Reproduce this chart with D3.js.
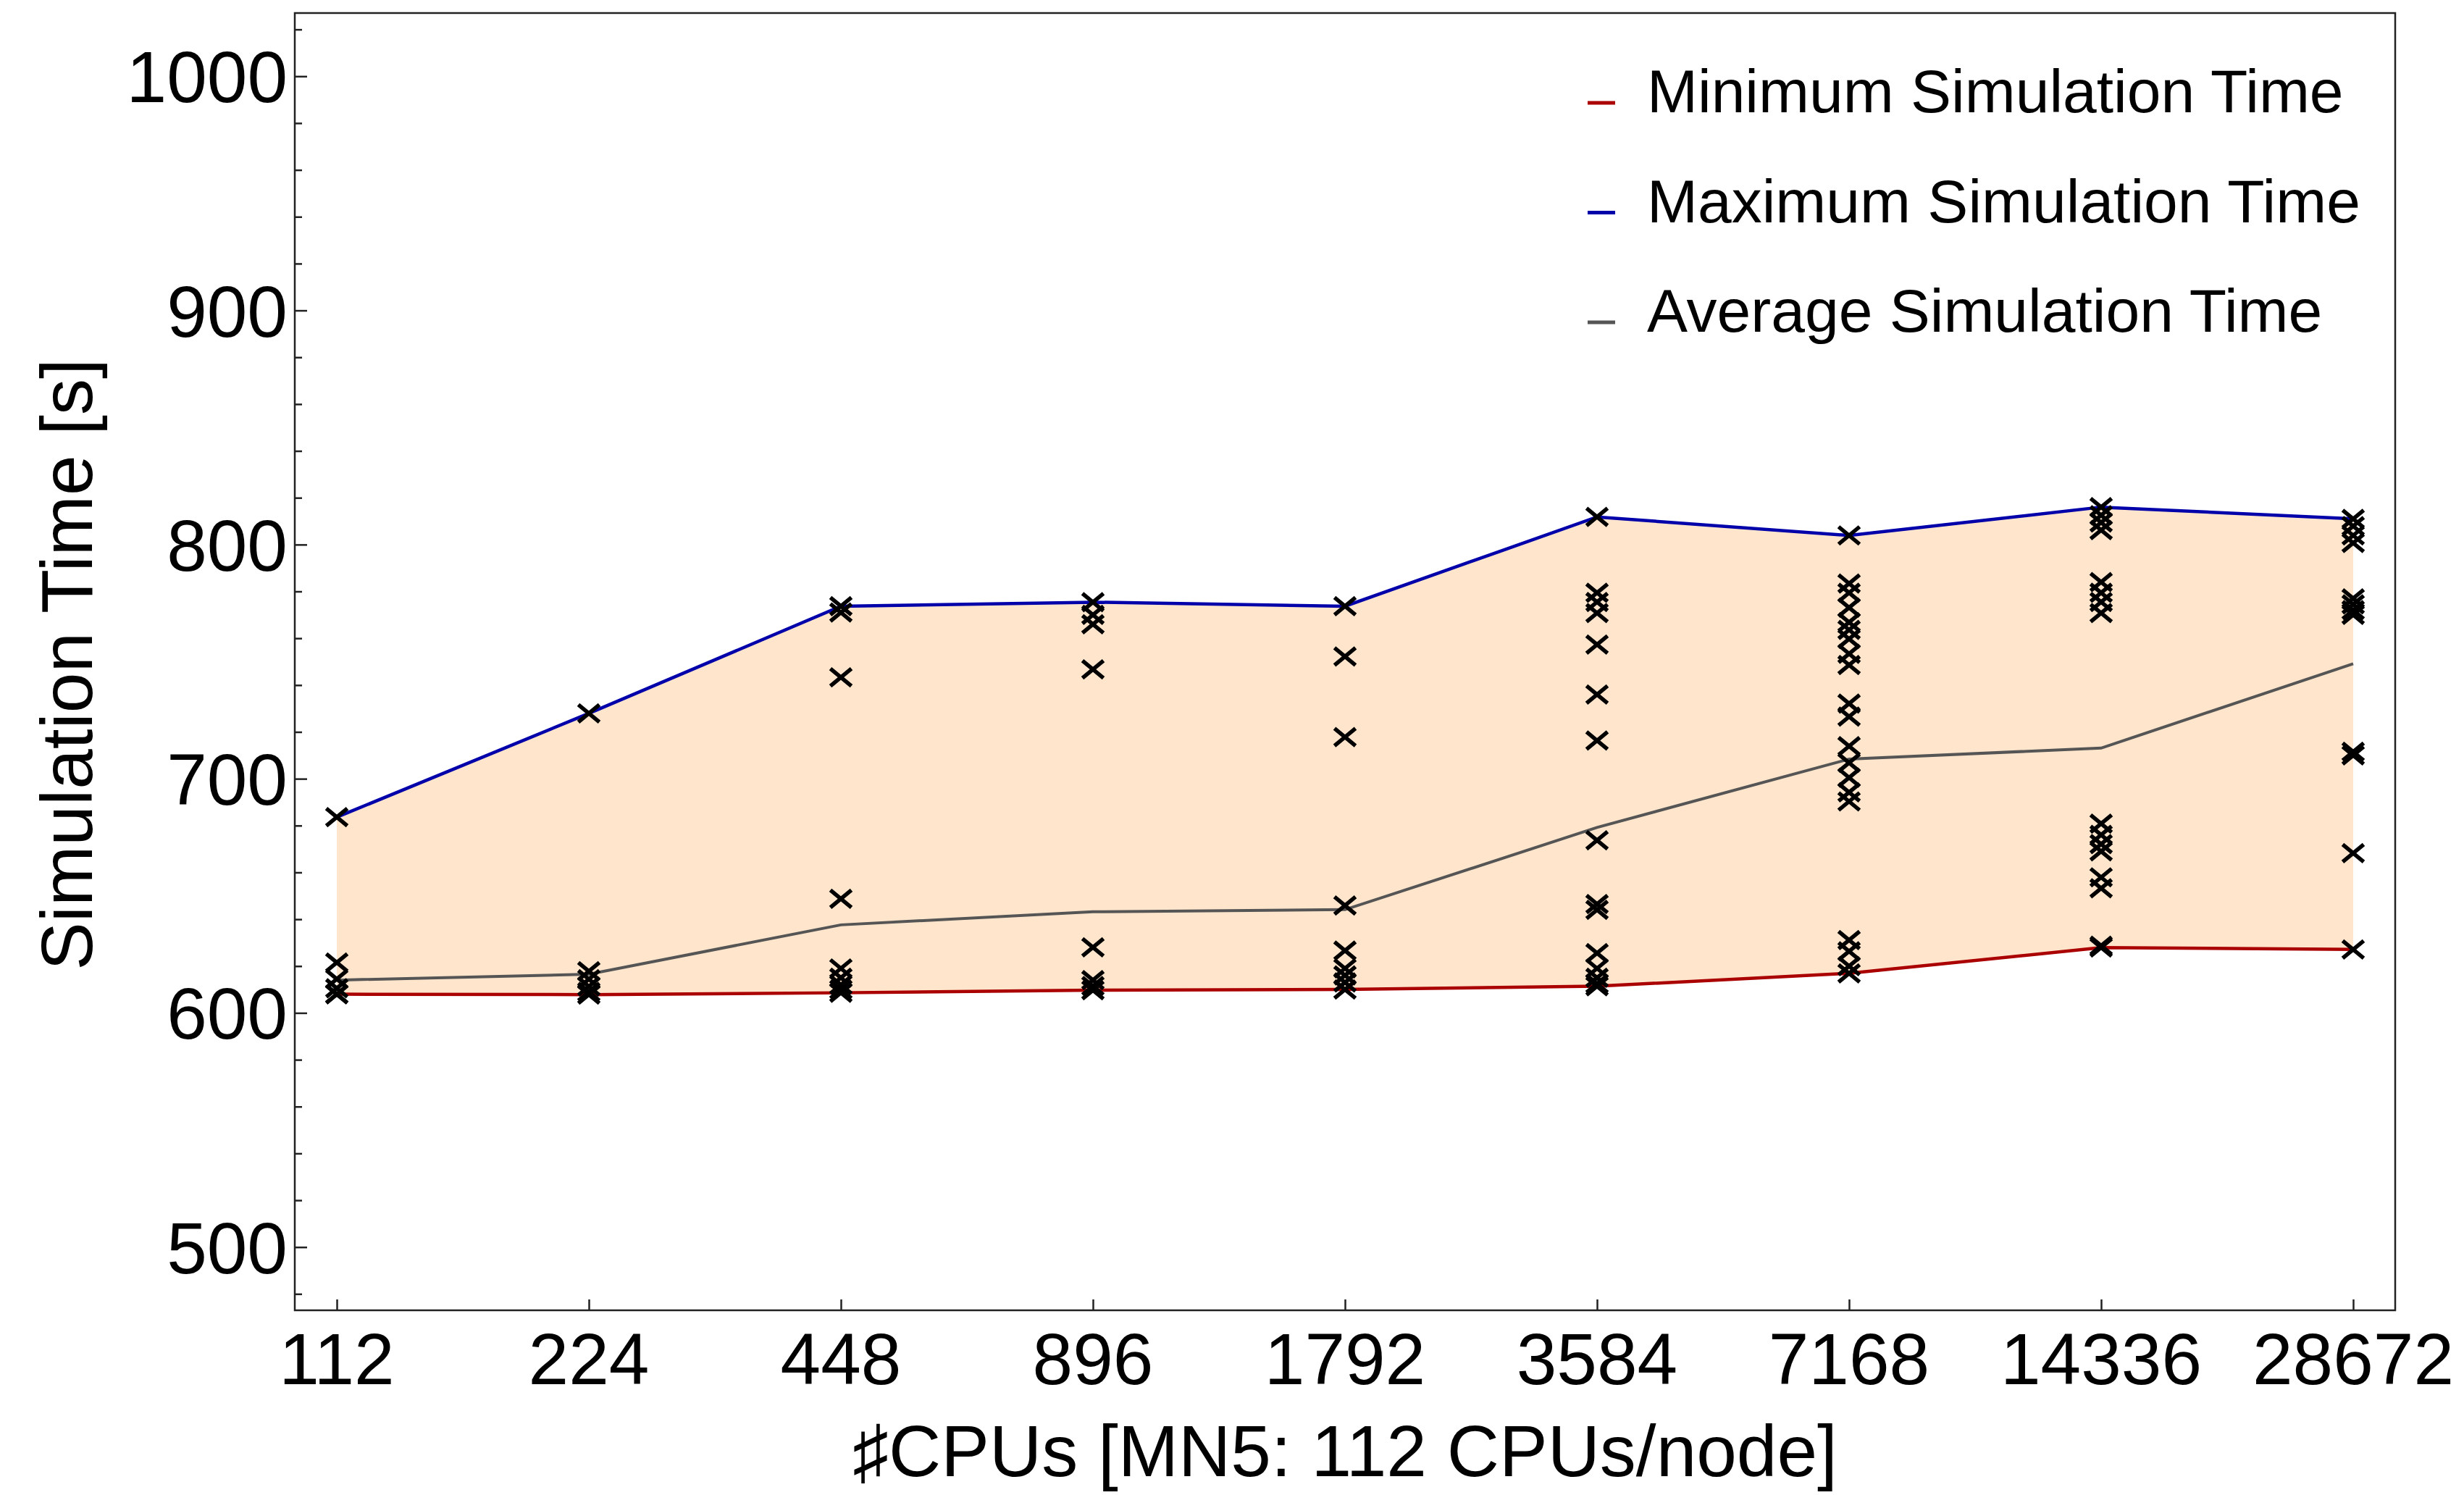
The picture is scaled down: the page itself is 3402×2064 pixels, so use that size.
<!DOCTYPE html>
<html>
<head>
<meta charset="utf-8">
<script src="https://cdn.jsdelivr.net/npm/d3@7"></script>
<style>
  html, body { margin: 0; padding: 0; background: #ffffff; }
  svg { display: block; }
  text { font-family: "Liberation Sans", Arial, Helvetica, sans-serif; fill: #000; }
</style>
</head>
<body>
<script>
// ---------------- data ----------------
const categories = ["112", "224", "448", "896", "1792", "3584", "7168", "14336", "28672"];
const minTime = [608.0, 607.8, 608.6, 609.7, 610.0, 611.4, 616.9, 627.9, 627.1];
const maxTime = [683.6, 727.9, 773.7, 775.4, 773.7, 811.8, 803.9, 816.0, 811.0];
const avgTime = [614.0, 616.5, 637.6, 643.2, 644.1, 679.2, 708.4, 713.1, 749.1];

const runs112   = [683.6, 621.5, 614.5, 610.5, 608.0, 608.0];
const runs224   = [727.9, 617.8, 614.4, 611.3, 609.0, 607.8];
const runs448   = [773.7, 771.0, 743.3, 648.7, 619.0, 615.0, 612.0, 610.0, 608.6];
const runs896   = [775.4, 770.0, 766.0, 746.7, 628.0, 614.0, 611.5, 609.7];
const runs1792  = [773.7, 752.2, 717.8, 645.9, 626.6, 619.0, 616.0, 613.0, 610.0];
const runs3584  = [811.8, 779.4, 775.5, 770.8, 757.3, 736.0, 716.3, 673.7, 646.5, 644.0, 625.5, 619.0, 615.0, 612.5, 611.4];
const runs7168  = [803.9, 783.4, 779.4, 773.1, 766.8, 763.6, 759.7, 753.4, 748.6, 732.1, 726.5, 713.9, 706.8, 700.5, 694.2, 690.3, 631.1, 626.3, 620.0, 616.9];
const runs14336 = [816.0, 812.5, 809.4, 806.2, 784.0, 779.4, 775.5, 770.8, 680.8, 676.0, 672.1, 669.0, 657.9, 653.2, 628.7, 627.9];
const runs28672 = [811.0, 807.9, 803.9, 800.7, 777.0, 774.5, 772.0, 770.0, 711.5, 710.0, 668.2, 627.1];
const runsByCategory = [runs112, runs224, runs448, runs896, runs1792, runs3584, runs7168, runs14336, runs28672];

const yMajorTicks = [500, 600, 700, 800, 900, 1000];
const yDomain = [473, 1027];
const legendLabels = ["Minimum Simulation Time", "Maximum Simulation Time", "Average Simulation Time"];
const xTitle = "\u266FCPUs [MN5: 112 CPUs/node]";
const yTitle = "Simulation Time [s]";

// ---------------- layout / style ----------------
const W = 3402, H = 2064;
const frame = { left: 407, right: 3307, top: 18, bottom: 1809 };
const colors = { min: "#aa0000", max: "#0000aa", avg: "#555555", fill: "#fee5cc" };

const svg = d3.select("body").append("svg").attr("width", W).attr("height", H);
svg.append("rect").attr("width", W).attr("height", H).attr("fill", "#fff");

const x = d3.scalePoint().domain(categories).range([frame.left, frame.right]).padding(0.1667);
const y = d3.scaleLinear().domain(yDomain).range([frame.bottom, frame.top]);

const rows = categories.map((c, i) => ({ c, min: minTime[i], max: maxTime[i], avg: avgTime[i] }));

// band
svg.append("path").datum(rows)
  .attr("fill", colors.fill)
  .attr("d", d3.area().x(d => x(d.c)).y0(d => y(d.min)).y1(d => y(d.max)));

// lines
const line = key => d3.line().x(d => x(d.c)).y(d => y(d[key]));
svg.append("path").datum(rows).attr("fill", "none").attr("stroke", colors.avg).attr("stroke-width", 4).attr("d", line("avg"));
svg.append("path").datum(rows).attr("fill", "none").attr("stroke", colors.min).attr("stroke-width", 4.5).attr("d", line("min"));
svg.append("path").datum(rows).attr("fill", "none").attr("stroke", colors.max).attr("stroke-width", 4.5).attr("d", line("max"));

// markers
const pts = [];
runsByCategory.forEach((arr, i) => arr.forEach(v => pts.push({ c: categories[i], v })));
const hw = 14.5, hh = 12;
svg.append("g").selectAll("path").data(pts).join("path")
  .attr("transform", d => `translate(${x(d.c)},${y(d.v)})`)
  .attr("d", `M${-hw},${-hh}L${hw},${hh}M${-hw},${hh}L${hw},${-hh}`)
  .attr("stroke", "#000").attr("stroke-width", 5.5).attr("fill", "none");

// frame
svg.append("rect")
  .attr("x", frame.left).attr("y", frame.top)
  .attr("width", frame.right - frame.left).attr("height", frame.bottom - frame.top)
  .attr("fill", "none").attr("stroke", "#222").attr("stroke-width", 2.5);

// y axis (ticks inward)
const yAxis = d3.axisRight(y)
  .tickValues(d3.range(480, 1021, 20))
  .tickSize(0).tickFormat("");
const yg = svg.append("g").attr("transform", `translate(${frame.left},0)`).call(yAxis);
yg.select(".domain").remove();
yg.selectAll(".tick line")
  .attr("x2", d => (d % 100 === 0 ? 17 : 10))
  .attr("stroke", "#222").attr("stroke-width", 2.5);
yMajorTicks.forEach(v => {
  svg.append("text")
    .attr("x", frame.left - 10).attr("y", y(v) + 36)
    .attr("text-anchor", "end").attr("font-size", 100)
    .text(String(v));
});

// x axis (ticks inward)
const xAxis = d3.axisTop(x).tickSize(15).tickFormat("");
const xg = svg.append("g").attr("transform", `translate(0,${frame.bottom})`).call(xAxis);
xg.select(".domain").remove();
xg.selectAll(".tick line").attr("stroke", "#222").attr("stroke-width", 2.5);
categories.forEach(c => {
  svg.append("text")
    .attr("x", x(c)).attr("y", 1911)
    .attr("text-anchor", "middle").attr("font-size", 100)
    .text(c);
});

// axis titles
svg.append("text")
  .attr("x", (frame.left + frame.right) / 2).attr("y", 2038)
  .attr("text-anchor", "middle").attr("font-size", 100)
  .text(xTitle);
svg.append("text")
  .attr("transform", `translate(127,${(frame.top + frame.bottom) / 2 + 4}) rotate(-90)`)
  .attr("text-anchor", "middle").attr("font-size", 100)
  .text(yTitle);

// legend
const legendColors = [colors.min, colors.max, colors.avg];
legendLabels.forEach((lab, i) => {
  const base = 155 + i * 151.5;
  svg.append("line")
    .attr("x1", 2192).attr("x2", 2230)
    .attr("y1", base - 13).attr("y2", base - 13)
    .attr("stroke", legendColors[i]).attr("stroke-width", 5);
  svg.append("text")
    .attr("x", 2274).attr("y", base)
    .attr("font-size", 84)
    .text(lab);
});
</script>
</body>
</html>
